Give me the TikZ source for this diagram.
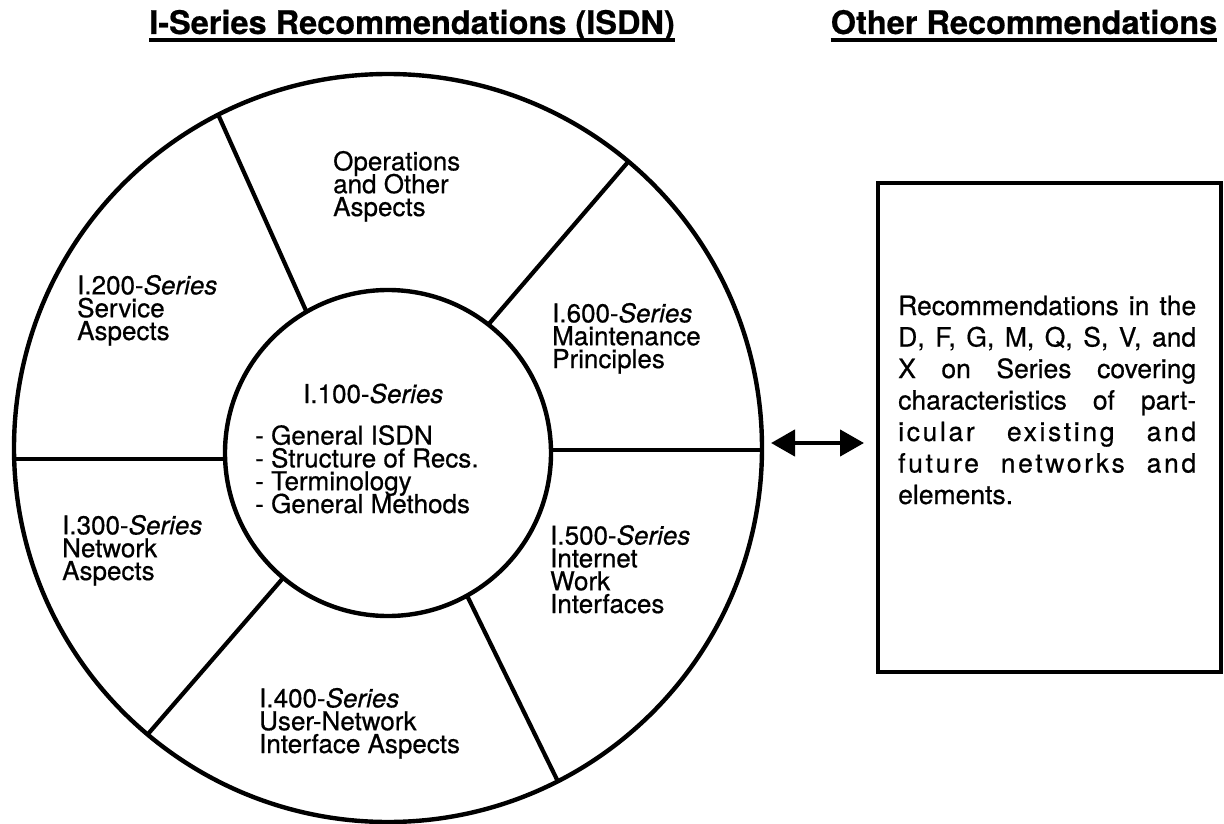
\documentclass[tikz,border=0pt]{standalone}
\usepackage{fontspec}
\setmainfont{TeX Gyre Heros}[FakeBold=0.6]
\usetikzlibrary{arrows.meta}
\newcommand\ringfnt{\fontsize{26pt}{22.8pt}\selectfont\lineskiplimit=-100pt\lineskip=0pt}
\newcommand\boxfnt{\fontsize{26.5pt}{31.5pt}\selectfont\lineskiplimit=-100pt\lineskip=0pt\spaceskip=0.28em plus 1fil\relax}
\newcommand\titlefnt{\fontsize{32.5pt}{36pt}\selectfont\bfseries}
\newcommand\spaced{\addfontfeature{LetterSpace=10}}
\begin{document}
\begin{tikzpicture}[x=1pt,y=-1pt,
  ring/.style={circle, draw, line width=4.4pt, inner sep=0pt, outer sep=0pt},
  divider/.style={line width=4.2pt},
  ringtext/.style={anchor=base west, align=left, inner sep=0pt, font=\ringfnt},
  titletext/.style={anchor=base, inner sep=0pt, font=\titlefnt},
  underline/.style={line width=3.2pt},
  otherbox/.style={rectangle, draw, line width=4.4pt, inner sep=0pt, outer sep=0pt, minimum width=343pt, minimum height=489pt},
  boxtext/.style={anchor=base west, text width=298pt, align=justify, inner sep=0pt, font=\boxfnt},
  dbl/.style={{Triangle[length=24pt,width=26pt]}-{Triangle[length=24pt,width=26pt]}, line width=4.4pt}
]
\useasboundingbox (0,0) rectangle (1224,824);

% titles
\node[titletext] (t1) at (412,34) {I-Series Recommendations (ISDN)};
\node[titletext] (t2) at (1024,34) {Other Recommendations};
\draw[underline] ([yshift=-6pt]t1.base west) -- ([yshift=-6pt]t1.base east);
\draw[underline] ([yshift=-6pt]t2.base west) -- ([yshift=-6pt]t2.base east);

% rings
\node[ring, minimum size=748pt] (outer) at (388,448) {};
\node[ring, minimum size=326pt] (inner) at (388,453) {};

% dividers
\draw[divider] (outer.117) -- (inner.120);
\draw[divider] (outer.50) -- (inner.52);
\draw[divider] (inner.1) -- (inner.1 -| outer.east);
\draw[divider] (inner.182 -| outer.west) -- (inner.182);
\draw[divider] (outer.230) -- (inner.230);
\draw[divider] (outer.297) -- (inner.299);

% sector texts (anchor = baseline of last line)
\node[ringtext] (ops) at (333,216) {Operations\\and Other\\Aspects};
\node[ringtext] (s200) at (77,340) {I.200-\textit{Series}\\Service\\Aspects};
\node[ringtext] (s600) at (552,368) {I.600-\textit{Series}\\Maintenance\\Principles};
\node[ringtext] (s300) at (62,580) {I.300-\textit{Series}\\Network\\Aspects};
\node[ringtext] (s400) at (259,753) {I.400-\textit{Series}\\User-Network\\Interface Aspects};
\node[ringtext] (s500) at (550,613) {I.500-\textit{Series}\\Internet\\Work\\Interfaces};
\node[ringtext] (s100) at (303,403) {I.100-\textit{Series}};
\node[ringtext] (s100list) at (255,513) {- General ISDN\\- Structure of Recs.\\- Terminology\\- General Methods};

% other recommendations box
\node[otherbox] (box) at (1049.5,427.5) {};
\node[boxtext] (boxtxt) at (898,315) {Recommendations in the\linebreak D, F, G, M, Q, S, V, and\linebreak X on Series covering\linebreak characteristics of part-\linebreak {\spaced icular existing and\linebreak future networks and}\linebreak elements.};

% double arrow
\draw[dbl] ([xshift=9pt,yshift=5pt]outer.east) -- ([xshift=-14pt,yshift=5pt]outer.east -| box.west);
\end{tikzpicture}
\end{document}
